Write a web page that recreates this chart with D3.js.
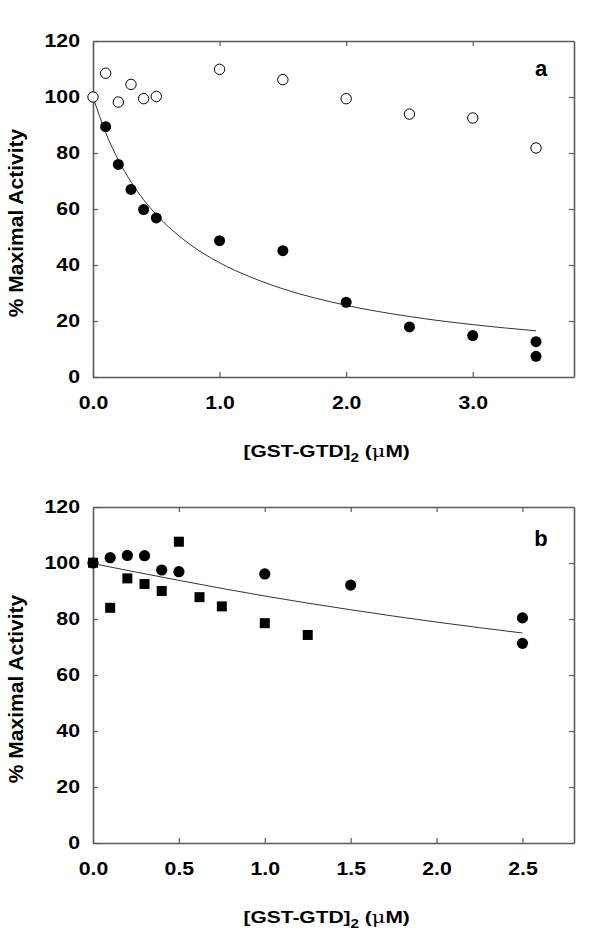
<!DOCTYPE html>
<html><head><meta charset="utf-8">
<script src="https://cdn.jsdelivr.net/npm/d3@7"></script>
<style>
body{margin:0;background:#fff;}
svg{display:block;font-family:"Liberation Sans",Arial,sans-serif;}
</style></head>
<body>
<svg id="chart" width="600" height="933"></svg>
<script>
// ---- Panel a data ----
const aOpenX = [0, 0.1, 0.2, 0.3, 0.4, 0.5, 1.0, 1.5, 2.0, 2.5, 3.0, 3.5];
const aOpenY = [100, 108.5, 98.2, 104.5, 99.4, 100.2, 109.9, 106.2, 99.4, 93.9, 92.5, 81.8];
const aFilledX = [0.1, 0.2, 0.3, 0.4, 0.5, 1.0, 1.5, 2.0, 2.5, 3.0, 3.5, 3.5];
const aFilledY = [89.4, 75.9, 67.0, 59.8, 56.8, 48.7, 45.1, 26.7, 17.9, 14.8, 12.6, 7.4];
const aCurveX = [0, 0.1, 0.2, 0.3, 0.4, 0.5, 0.75, 1.0, 1.25, 1.5, 2.0, 2.5, 3.0, 3.5];
const aCurveY = [100, 87.3, 77.5, 69.7, 63.3, 58.0, 47.9, 40.8, 35.6, 31.5, 25.6, 21.6, 18.7, 16.5];
const aXTicks = [0, 1, 2, 3];
// ---- Panel b data ----
const bCircleX = [0, 0.1, 0.2, 0.3, 0.4, 0.5, 1.0, 1.5, 2.5, 2.5];
const bCircleY = [100, 101.9, 102.7, 102.6, 97.5, 96.9, 96.1, 92.1, 80.4, 71.3];
const bSquareX = [0, 0.1, 0.2, 0.3, 0.4, 0.5, 0.62, 0.75, 1.0, 1.25];
const bSquareY = [100.1, 84.0, 94.5, 92.5, 90.0, 107.6, 87.8, 84.5, 78.5, 74.3];
const bCurveX = [0, 0.5, 1.0, 1.5, 2.0, 2.5];
const bCurveY = [99.8, 93.8, 88.2, 83.3, 78.9, 75.0];
const bXTicks = [0, 0.5, 1.0, 1.5, 2.0, 2.5];
const yTicks = [0, 20, 40, 60, 80, 100, 120];

const svg = d3.select("#chart");
const axisColor = "#5a5a5a";
const FONT = '"Liberation Sans",Arial,sans-serif';

function panel(cfg){
  const {top, bottom, left, right, xMax, xTicks, label} = cfg;
  const x = d3.scaleLinear().domain([0, xMax]).range([left, right]);
  const y = d3.scaleLinear().domain([0, 120]).range([bottom, top]);
  const g = svg.append("g");

  const style = sel => {
    sel.selectAll(".domain").attr("stroke", axisColor).attr("stroke-width", 1.6);
    sel.selectAll(".tick line").attr("stroke", axisColor).attr("stroke-width", 1.2);
    sel.selectAll(".tick text").attr("font-size", 18.5).attr("font-weight", "bold").attr("fill", "#000")
      .attr("font-family", FONT).attr("transform", "scale(1.15,1)");
  };

  g.append("g").attr("transform", `translate(0,${bottom})`)
    .call(d3.axisBottom(x).tickValues(xTicks).tickFormat(d3.format(".1f")).tickSizeInner(-5).tickSizeOuter(0).tickPadding(19))
    .call(style);
  g.append("g").attr("transform", `translate(0,${top})`)
    .call(d3.axisTop(x).tickValues(xTicks.filter(d => d > 0)).tickFormat("").tickSizeInner(-5).tickSizeOuter(0))
    .call(style);
  g.append("g").attr("transform", `translate(${left},0)`)
    .call(d3.axisLeft(y).tickValues(yTicks).tickSizeInner(-5).tickSizeOuter(0).tickPadding(11.3))
    .call(style);
  g.append("g").attr("transform", `translate(${right},0)`)
    .call(d3.axisRight(y).tickValues(yTicks.filter(d => d > 0 && d < 120)).tickFormat("").tickSizeInner(-5).tickSizeOuter(0))
    .call(style);

  // fit curve
  const line = d3.line().x(d => x(d[0])).y(d => y(d[1])).curve(d3.curveMonotoneX);
  g.append("path").datum(d3.zip(cfg.curveX, cfg.curveY))
    .attr("d", line).attr("fill", "none").attr("stroke", "#333").attr("stroke-width", 1);

  cfg.draw(g, x, y);

  // panel label
  g.append("text").attr("x", 541).attr("y", cfg.labelY)
    .attr("font-size", 22).attr("font-weight", "bold").attr("text-anchor", "middle").text(label);

  // x axis title
  const t = g.append("text").attr("transform", `translate(326.7,${bottom + 79.7}) scale(1.27,1)`)
    .attr("font-size", 16.5).attr("font-weight", "bold").attr("text-anchor", "middle");
  t.append("tspan").text("[GST-GTD]");
  t.append("tspan").attr("font-size", 12).attr("dy", 5).text("2");
  t.append("tspan").attr("dy", -5).text(" (");
  t.append("tspan").attr("font-weight", "normal").attr("font-family", '"DejaVu Serif",serif').text("μ");
  t.append("tspan").text("M)");

  // y axis title
  g.append("text").attr("transform", `translate(23,${top + 182}) rotate(-90)`)
    .attr("font-size", 21).attr("font-weight", "bold").attr("text-anchor", "middle").text("% Maximal Activity");
}

panel({
  top: 41, bottom: 377, left: 93, right: 574, xMax: 3.8, xTicks: aXTicks, label: "a", labelY: 76,
  curveX: aCurveX, curveY: aCurveY,
  draw: (g, x, y) => {
    g.selectAll(".fc").data(d3.zip(aFilledX, aFilledY)).join("circle")
      .attr("cx", d => x(d[0])).attr("cy", d => y(d[1])).attr("r", 5.5).attr("fill", "#000");
    g.selectAll(".oc").data(d3.zip(aOpenX, aOpenY)).join("circle")
      .attr("cx", d => x(d[0])).attr("cy", d => y(d[1])).attr("r", 5.2)
      .attr("fill", "#fff").attr("stroke", "#000").attr("stroke-width", 1);
  }
});

panel({
  top: 507, bottom: 843, left: 93, right: 574, xMax: 2.8, xTicks: bXTicks, label: "b", labelY: 546,
  curveX: bCurveX, curveY: bCurveY,
  draw: (g, x, y) => {
    g.selectAll(".bc").data(d3.zip(bCircleX, bCircleY)).join("circle")
      .attr("cx", d => x(d[0])).attr("cy", d => y(d[1])).attr("r", 5.6).attr("fill", "#000");
    g.selectAll(".bs").data(d3.zip(bSquareX, bSquareY)).join("rect")
      .attr("x", d => x(d[0]) - 5).attr("y", d => y(d[1]) - 5).attr("width", 10).attr("height", 10).attr("fill", "#000");
  }
});
</script>
</body></html>
